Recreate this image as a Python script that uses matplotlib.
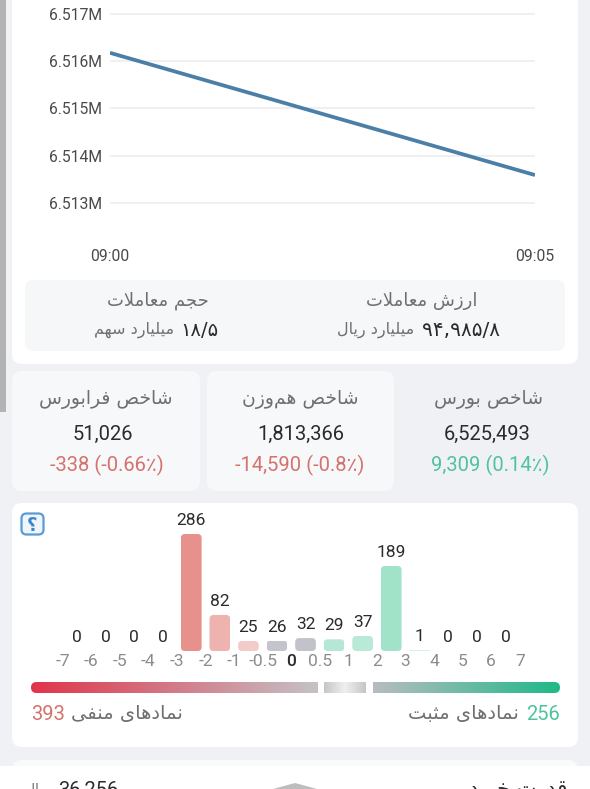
import numpy as np
import matplotlib
matplotlib.use("Agg")
import matplotlib.pyplot as plt
from matplotlib.patches import FancyBboxPatch, Rectangle, Polygon
from matplotlib.colors import LinearSegmentedColormap
from matplotlib.scale import FuncScale
from matplotlib.transforms import IdentityTransform

# ---------- data ----------
line_times = [0, 5]
line_values = [6.51617, 6.51359]
line_yticks = [6.513, 6.514, 6.515, 6.516, 6.517]
line_ylabels = ["6.513M", "6.514M", "6.515M", "6.516M", "6.517M"]
line_xlabels = ["09:00", "09:05"]

bar_counts = [0, 0, 0, 0, 286, 82, 25, 26, 32, 29, 37, 189, 1, 0, 0, 0]
bar_edges = ["-7", "-6", "-5", "-4", "-3", "-2", "-1", "-0.5", "0", "0.5",
             "1", "2", "3", "4", "5", "6", "7"]
bar_colors = ["#e8918c"] * 4 + ["#e8918c", "#efb3af", "#f3cbc8", "#c4c4cd", "#c2c2cb",
              "#b4e8d4", "#b9ead8", "#a0e3c8"] + ["#d5f1e6"] * 4

index_titles = ["شاخص بورس", "شاخص هم‌وزن", "شاخص فرابورس"]
index_values = ["6,525,493", "1,813,366", "51,026"]
index_changes = ["9,309 (0.14٪)", "-14,590 (-0.8٪)", "-338 (-0.66٪)"]
positive_count = "256"
negative_count = "393"

# ---------- Persian shaping (matplotlib draws glyphs left to right, unshaped) ----------
F4 = {"ب": 0xFE8F, "ت": 0xFE95, "ث": 0xFE99, "ج": 0xFE9D, "ح": 0xFEA1, "خ": 0xFEA5,
      "س": 0xFEB1, "ش": 0xFEB5, "ص": 0xFEB9, "ض": 0xFEBD, "ط": 0xFEC1, "ظ": 0xFEC5,
      "ع": 0xFEC9, "غ": 0xFECD, "ف": 0xFED1, "ق": 0xFED5, "ل": 0xFEDD, "م": 0xFEE1,
      "ن": 0xFEE5, "ه": 0xFEE9, "پ": 0xFB56, "چ": 0xFB7A, "ک": 0xFB8E, "گ": 0xFB92,
      "ی": 0xFBFC}
F2 = {"ا": 0xFE8D, "آ": 0xFE81, "د": 0xFEA9, "ذ": 0xFEAB, "ر": 0xFEAD, "ز": 0xFEAF,
      "ژ": 0xFB8A, "و": 0xFEED}


def fa(s):
    s = s.replace("لا", "\uFFF0")
    out = []
    for i, c in enumerate(s):
        p = s[i - 1] if i else ""
        n = s[i + 1] if i + 1 < len(s) else ""
        joins_prev = p in F4
        joins_next = n in F4 or n in F2 or n == "\uFFF0"
        if c == "\uFFF0":
            out.append(chr(0xFEFC if joins_prev else 0xFEFB))
        elif c == "\u200c":
            continue
        elif c in F2:
            out.append(chr(F2[c] + (1 if joins_prev else 0)))
        elif c in F4:
            k = (1 if joins_prev and not joins_next else
                 2 if joins_next and not joins_prev else
                 3 if joins_prev and joins_next else 0)
            out.append(chr(F4[c] + k))
        else:
            out.append(c)
    return "".join(reversed(out))


LAT = ["Roboto", "DejaVu Sans"]
ARA = ["DejaVu Sans"]
W, H = 590, 789
fig = plt.figure(figsize=(W / 100, H / 100), dpi=100, facecolor="#eff1f5")


def px_axes(x0, y0, x1, y1, **kw):
    return fig.add_axes([x0 / W, 1 - y1 / H, (x1 - x0) / W, (y1 - y0) / H], **kw)


bg = px_axes(0, 0, W, H, zorder=0)
bg.axis("off")


def card(x0, y0, x1, y1, color, r=10, z=1, **kw):
    p = FancyBboxPatch((x0, y0), x1 - x0, y1 - y0,
                       boxstyle=f"round,pad=0,rounding_size={r}",
                       fc=color, ec=kw.pop("ec", "none"), zorder=z, **kw)
    bg.add_patch(p)
    return p


def t(x, y, s, size, color, ha="center", family=LAT, **kw):
    bg.text(x, y, s, fontsize=size, color=color, ha=ha, va="center_baseline",
            family=family, zorder=6, **kw)


# side strip and cards
bg.add_patch(Rectangle((0, 0), 6, 412, fc="#b3b3b5", ec="none", zorder=1))
card(12, -30, 578, 364, "white")
card(25, 280, 565, 351, "#f6f7f9", r=9, z=2)
card(12, 371, 200, 491, "#f7f8fa")
card(207, 371, 394, 491, "#f7f8fa")
card(12, 503, 578, 747, "white")
card(12, 760, 578, 800, "#f9fafb")
bg.add_patch(Rectangle((0, 766), W, 30, fc="white", ec="none", zorder=2))
bg.add_patch(Polygon([(273, 789), (295, 783), (317, 789)], fc="#bdbdbd", ec="none", zorder=3))

# summary box
GREY = "#6f6f73"
DARK = "#2b2b2e"
t(422, 299, fa("ارزش معاملات"), 13, GREY, family=ARA)
t(158, 299, fa("حجم معاملات"), 13, GREY, family=ARA)
t(500, 328, "۹۴,۹۸۵/۸", 14.5, DARK, ha="right", family=ARA)
t(414, 328, fa("میلیارد ریال"), 11.5, GREY, ha="right", family=ARA)
t(218, 328, "۱۸/۵", 14, DARK, ha="right", family=ARA)
t(174, 328, fa("میلیارد سهم"), 11.5, GREY, ha="right", family=ARA)

# index cards
title_x = [489, 300, 106]
value_x = [487, 301, 103]
change_x = [490, 300, 107]
change_colors = ["#4fc39b", "#d4726c", "#d4726c"]
for i in range(3):
    t(title_x[i], 397, fa(index_titles[i]), 13.5, GREY, family=ARA)
    t(value_x[i], 432, index_values[i], 14.5, DARK)
    t(change_x[i], 463, index_changes[i], 14.5, change_colors[i])

# help icon
card(21.5, 513.5, 43.5, 534.5, "#eef5fb", r=5, z=3, ec="#5b9bd5", lw=1.6)
t(32.5, 524, "؟", 13, "#3f86c6", family=ARA, weight="bold")

# gradient bar
reds = LinearSegmentedColormap.from_list("r", ["#e0344a", "#c4c2c6"])
mids = LinearSegmentedColormap.from_list("m", ["#c6c6c6", "#f0f0f0", "#c6c6c6"])
greens = LinearSegmentedColormap.from_list("g", ["#b8bcc0", "#1fb988"])
ramp = np.linspace(0, 1, 256).reshape(1, -1)
for (x0, x1), cmap in [((31, 318), reds), ((324, 366), mids), ((373, 560), greens)]:
    im = bg.imshow(ramp, extent=(x0, x1, 693, 682), cmap=cmap, aspect="auto", zorder=3)
    if x0 == 31 or x0 == 373:
        rr = FancyBboxPatch((x0 if x0 == 31 else x0 - 10, 682),
                            x1 - x0 + 10, 11, boxstyle="round,pad=0,rounding_size=5.5",
                            transform=bg.transData, fc="none", ec="none")
        bg.add_patch(rr)
        im.set_clip_path(rr)
bg.set_xlim(0, W)
bg.set_ylim(H, 0)

# legend texts
t(560, 712, positive_count, 14.5, "#4fc39b", ha="right")
t(519, 712, fa("نمادهای مثبت"), 14, GREY, ha="right", family=ARA)
t(31, 712, negative_count, 14.5, "#d4726c", ha="left")
t(183, 712, fa("نمادهای منفی"), 14, GREY, ha="right", family=ARA)

# bottom strip (cut off by the picture edge, as in the reference)
t(118, 788, "36,256", 14.5, DARK, ha="right")
t(50, 788, fa("ریال"), 10, GREY, ha="right", family=ARA)
t(567, 788, fa("قدرت خرید"), 15, DARK, ha="right", family=ARA)

# ---------- line chart ----------
ax = px_axes(110, 0, 535, 228, zorder=3)
ax.patch.set_alpha(0)
per_px = 0.004 / (203 - 13.5)
ax.set_ylim(6.513 - (228 - 203) * per_px, 6.517 + 13.5 * per_px)
ax.set_xlim(line_times[0], line_times[-1])
ax.plot(line_times, line_values, color="#4a7fa8", lw=2.7, solid_capstyle="butt", zorder=3)
ax.set_yticks(line_yticks, line_ylabels, family=LAT, fontsize=11.3, color="#4a4a4d")
ax.set_xticks(line_times, line_xlabels, family=LAT, fontsize=11.3, color="#4a4a4d")
ax.tick_params(length=0)
ax.tick_params(axis="y", pad=5.5)
ax.tick_params(axis="x", pad=15)
ax.grid(axis="y", color="#ebedf0", lw=1.2)
ax.set_axisbelow(True)
for s in ax.spines.values():
    s.set_visible(False)
ax.get_xticklabels()[0].set_x(0)

# ---------- bar chart ----------
bx = px_axes(31, 534, 560, 651, zorder=3)
bx.patch.set_alpha(0)
spacing = (505.5 - 77) / 15
bx.set_xlim((31 - 77) / spacing, (560 - 77) / spacing)
scale_in = [0, 1, 25, 37, 82, 189, 286]
scale_out = [0, 1, 10, 15, 36, 85, 117]
bx.set_yscale(FuncScale(bx.yaxis, (lambda v: np.interp(v, scale_in, scale_out),
                                   lambda h: np.interp(h, scale_out, scale_in))))
bx.set_ylim(0, 286)
xs = np.arange(len(bar_counts))
bars = bx.bar(xs, bar_counts, width=20.7 / spacing, color=bar_colors, linewidth=0)
fig.canvas.draw()
for rect in bars:
    (a, b), (c, d) = bx.transData.transform(
        [(rect.get_x(), 0), (rect.get_x() + rect.get_width(), rect.get_height())])
    if d - b < 1e-6:
        continue
    r = min(4, (d - b) / 2)
    clip = FancyBboxPatch((a, b), c - a, d - b, boxstyle=f"round,pad=0,rounding_size={r}",
                          transform=IdentityTransform())
    rect.set_clip_path(clip)
for x, v in zip(xs, bar_counts):
    bx.annotate(str(v), (x, v), xytext=(0, 15 * 0.72), textcoords="offset points",
                ha="center", va="center_baseline", family=LAT, fontsize=12.5,
                color=DARK, clip_on=False)
bx.set_xticks(np.arange(len(bar_edges)) - 0.5, bar_edges, family=LAT, fontsize=12.5, color="#8c8c90")
for lab, s in zip(bx.get_xticklabels(), bar_edges):
    if s == "0":
        lab.set_color(DARK)
        lab.set_fontweight("medium")
bx.tick_params(axis="x", length=0, pad=2)
bx.set_yticks([])
for s in bx.spines.values():
    s.set_visible(False)

fig.savefig("out.png", dpi=100, facecolor=fig.get_facecolor())
